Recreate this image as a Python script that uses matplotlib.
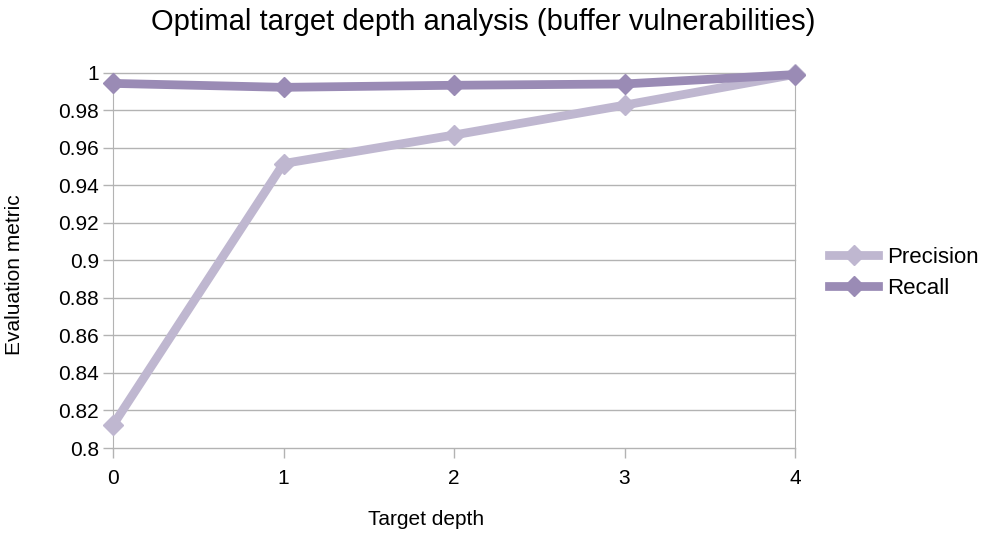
import matplotlib
matplotlib.use("Agg")
import matplotlib.pyplot as plt

plt.rcParams['font.family'] = ['Liberation Sans', 'DejaVu Sans']

# data
depth = [0, 1, 2, 3, 4]
precision = [0.8122, 0.9515, 0.9667, 0.9826, 0.9990]
recall = [0.9942, 0.9921, 0.9932, 0.9939, 0.9989]
yticks = [0.8, 0.82, 0.84, 0.86, 0.88, 0.9, 0.92, 0.94, 0.96, 0.98, 1]
ytick_labels = ['0.8', '0.82', '0.84', '0.86', '0.88', '0.9', '0.92', '0.94',
                '0.96', '0.98', '1']

c_prec = '#bfb7d0'
c_rec = '#9a8bb5'
grid_c = '#b3b3b3'

fig = plt.figure(figsize=(9.86, 5.37), dpi=100)
# plot area in pixels: x 113..795, y 72.5..448
ax = fig.add_axes([113 / 986, 1 - 448 / 537, (795 - 113) / 986, (448 - 72.5) / 537])

ax.plot(depth, precision, color=c_prec, lw=6.3, marker='D', ms=10,
        label='Precision', solid_joinstyle='miter', clip_on=False, zorder=3)
ax.plot(depth, recall, color=c_rec, lw=6.3, marker='D', ms=10,
        label='Recall', solid_joinstyle='miter', clip_on=False, zorder=4)

ax.set_xlim(0, 4)
ax.set_ylim(0.8, 1)
ax.set_xticks(depth)
ax.set_yticks(yticks)
ax.set_yticklabels(ytick_labels)
ax.yaxis.grid(True, color=grid_c, lw=1)
for gl in ax.get_ygridlines():
    gl.set_clip_on(False)
ax.set_axisbelow(True)
for side in ['top', 'bottom']:
    ax.spines[side].set_visible(False)
for side in ['left', 'right']:
    ax.spines[side].set_color(grid_c)
ax.tick_params(axis='both', colors=grid_c, labelcolor='black', labelsize=15,
               length=7, width=1)
ax.tick_params(axis='x', pad=8)
ax.tick_params(axis='y', pad=3)

ax.set_xlabel('Target depth', fontsize=15)
ax.set_ylabel('Evaluation metric', fontsize=15)
ax.xaxis.set_label_coords(0.459, -0.165)
ax.yaxis.set_label_coords(-0.1305, 0.461)
fig.suptitle('Optimal target depth analysis (buffer vulnerabilities)',
             fontsize=21, x=0.49, y=0.985)

ax.legend(loc='center left', bbox_to_anchor=(1.05, 0.466), frameon=False,
          fontsize=16, handlelength=2.2, handletextpad=0.4, labelspacing=0.45,
          borderpad=0, borderaxespad=0)

fig.savefig('out.png', dpi=100)
